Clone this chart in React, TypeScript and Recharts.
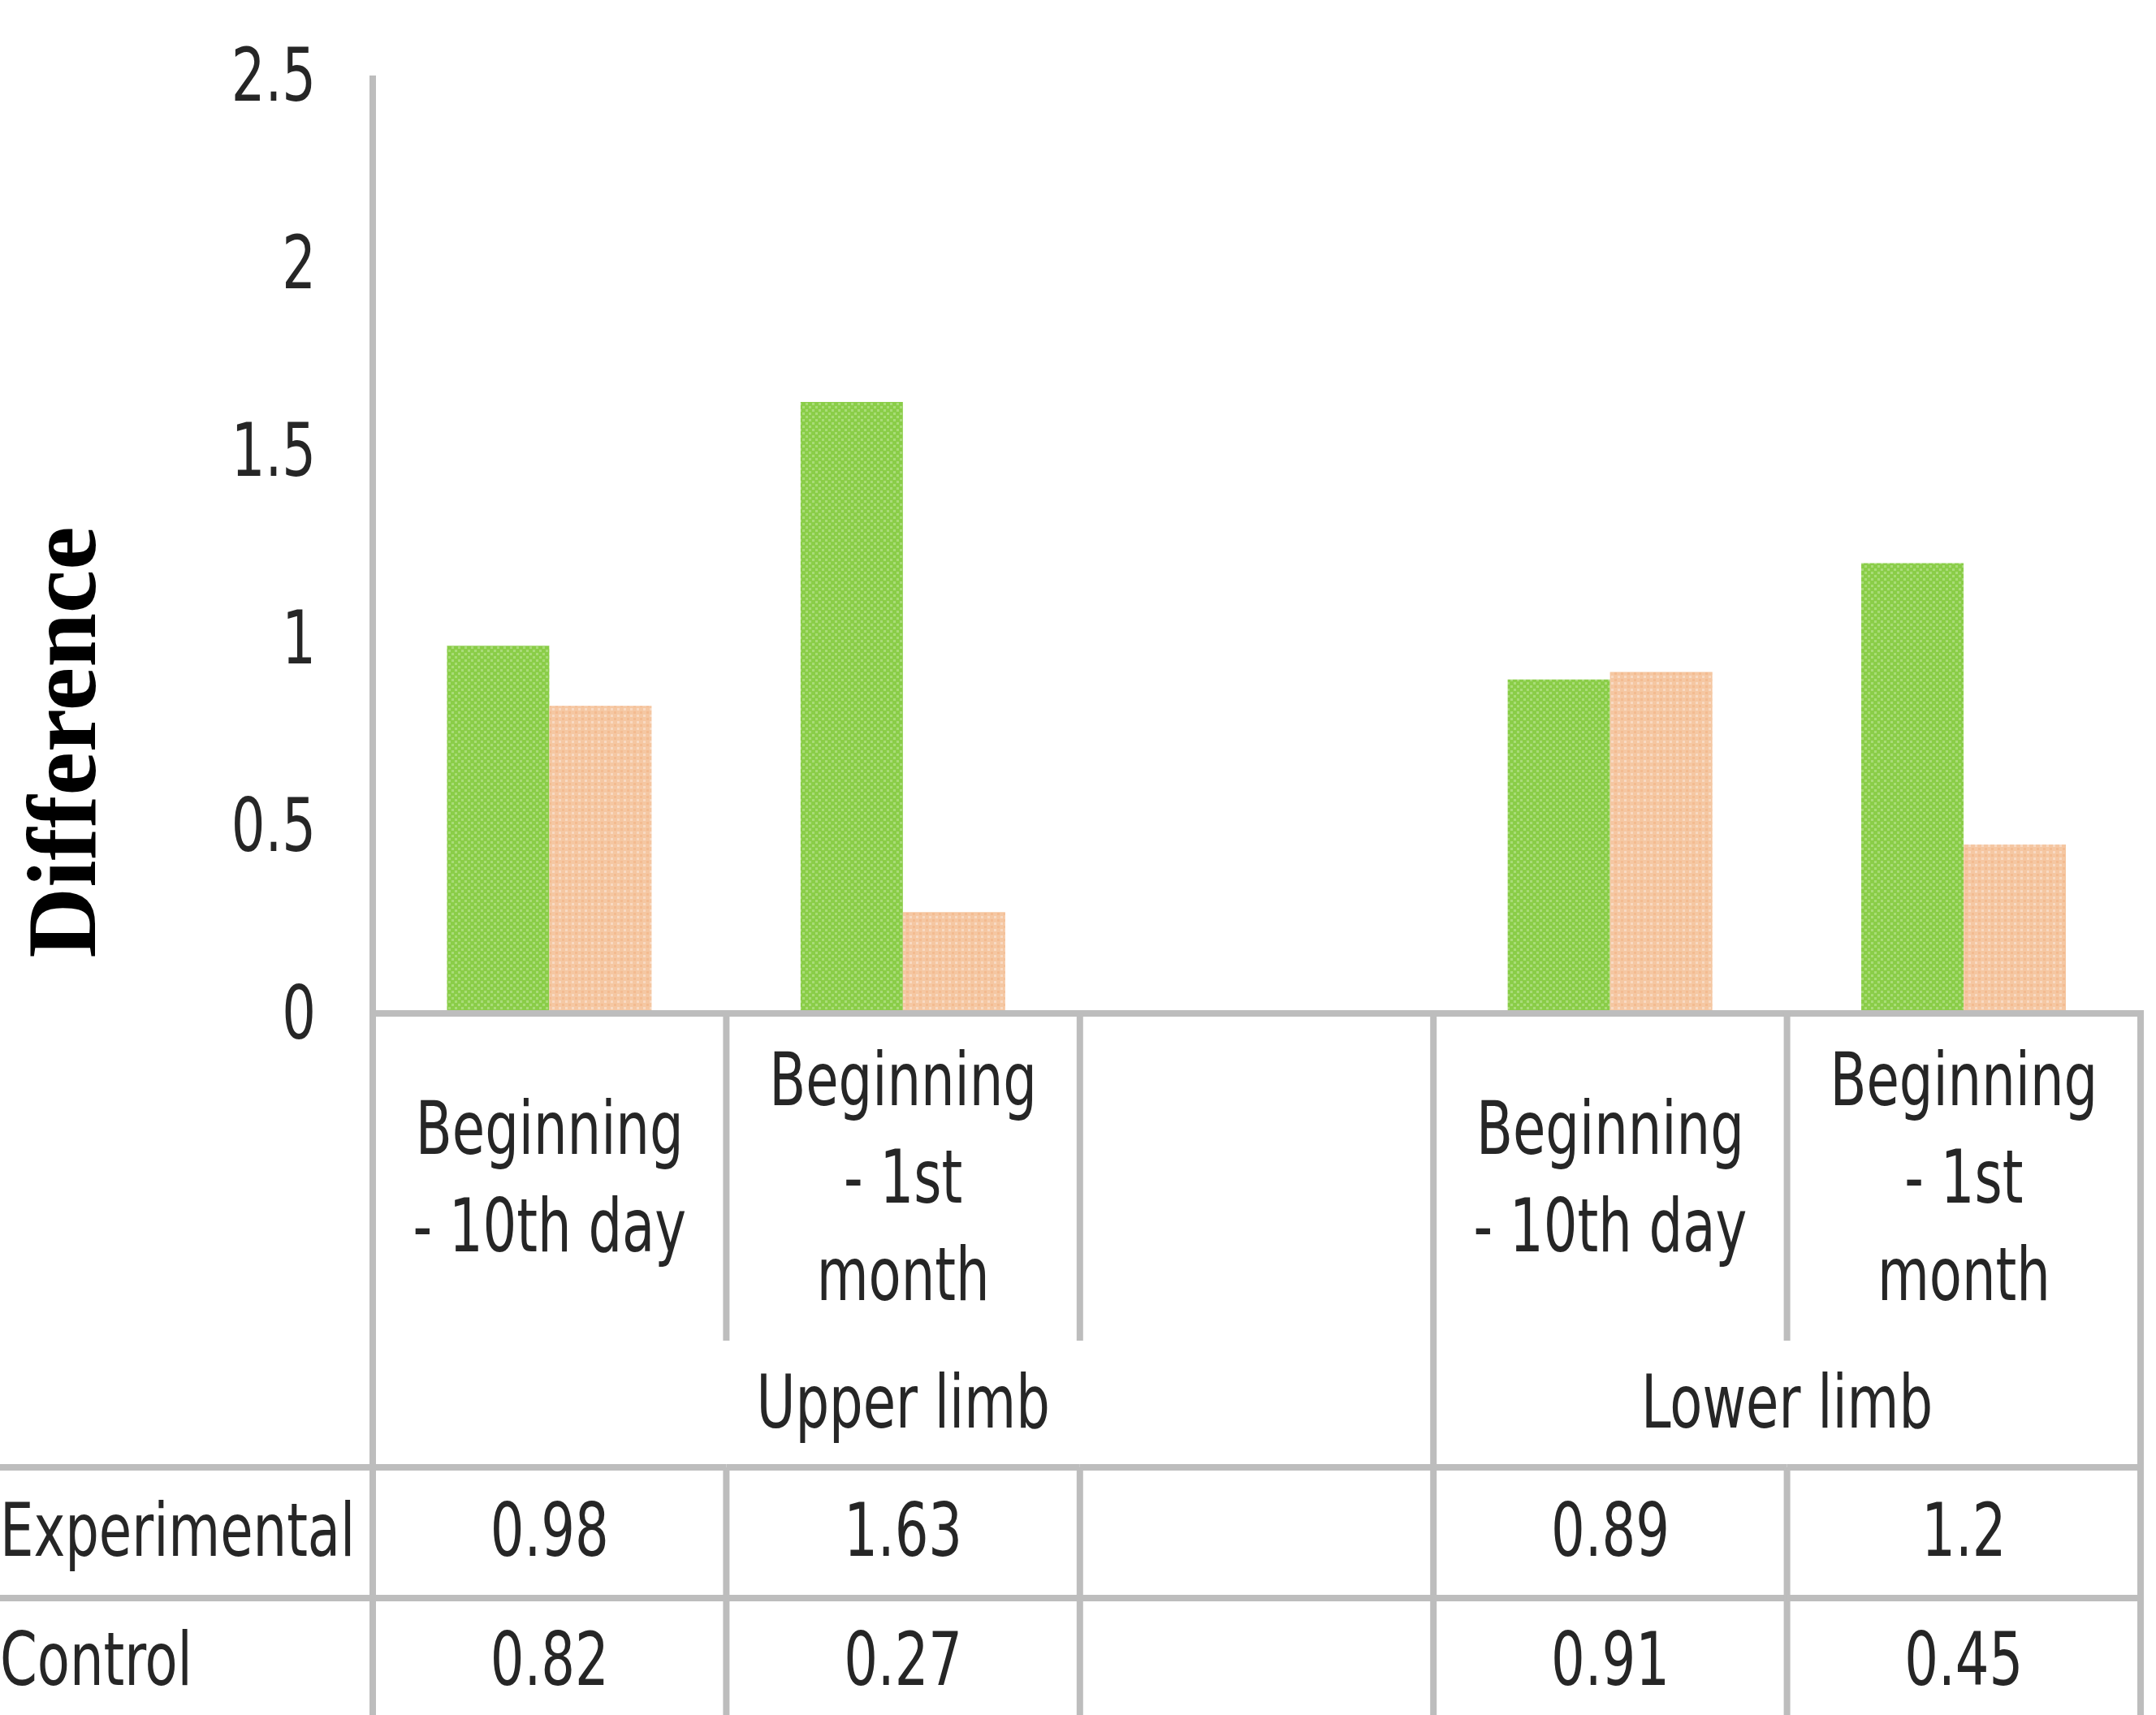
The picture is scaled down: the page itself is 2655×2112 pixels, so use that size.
import React from 'react';
import { BarChart, Bar, XAxis, YAxis } from 'recharts';

const categories = ['Beginning - 10th day', 'Beginning - 1st month', '', 'Beginning - 10th day', 'Beginning - 1st month'];
const categoryLines = [['Beginning', '- 10th day'], ['Beginning', '- 1st', 'month'], [], ['Beginning', '- 10th day'], ['Beginning', '- 1st', 'month']];
const groups = ['Upper limb', 'Lower limb'];
const groupSpans = [[0, 2], [3, 4]];
const seriesNames = ['Experimental', 'Control'];
const experimental = [0.98, 1.63, null, 0.89, 1.2];
const control = [0.82, 0.27, null, 0.91, 0.45];
const yTicks = [0, 0.5, 1, 1.5, 2, 2.5];

const data = categories.map((name, i) => ({ id: i, name, experimental: experimental[i], control: control[i] }));

const W = 2655;
const H = 2112;
const PLOT = { left: 459, right: 2636, top: 93, bottom: 1248 };
const COL_W = (PLOT.right - PLOT.left) / categories.length;

const FONT = "'Liberation Sans Narrow', 'DejaVu Sans Condensed', 'Open Sans', sans-serif";
const TEXT = '#262626';
const LINE = '#bdbdbd';
const LW = 8;
const FS = 90;
const SQUEEZE = 0.81; // reference text is narrow (Calibri-like)

// offsets below the x axis
const LABEL_MID = 202;
const LABEL_LH = 120;
const INNER_END = 403;
const GROUP_Y = 479;
const ROW1_LINE = 559;
const ROW2_LINE = 720;
const ROW_Y = [637, 796];

const txt = (key: string, x: number, y: number, s: string, anchor = 'middle') => (
  <text
    key={key}
    x={0}
    y={0}
    transform={`translate(${x},${y}) scale(${SQUEEZE},1)`}
    textAnchor={anchor}
    dominantBaseline="central"
    fontFamily={FONT}
    fontSize={FS}
    fill={TEXT}
  >
    {s}
  </text>
);

const ValueTick = (props: any) => {
  const { x, y, payload } = props;
  return txt('t', x, y, String(payload.value), 'end');
};

const CategoryTick = (props: any) => {
  const { x, y, payload } = props;
  const i = Number(payload.value);
  const hw = COL_W / 2;
  const left = x - hw;
  const right = x + hw;
  const out: React.ReactNode[] = [];
  const lines = categoryLines[i] || [];
  lines.forEach((t, k) => {
    out.push(txt('c' + k, x, y + LABEL_MID + (k - (lines.length - 1) / 2) * LABEL_LH, t));
  });
  // vertical divider on the left of the column
  const groupStart = groupSpans.some((g) => g[0] === i);
  if (groupStart) {
    out.push(<line key="vl" x1={left} x2={left} y1={y} y2={H} stroke={LINE} strokeWidth={LW} />);
  } else {
    out.push(<line key="vl1" x1={left} x2={left} y1={y} y2={y + INNER_END} stroke={LINE} strokeWidth={LW} />);
    out.push(<line key="vl2" x1={left} x2={left} y1={y + ROW1_LINE} y2={H} stroke={LINE} strokeWidth={LW} />);
  }
  if (i === categories.length - 1) {
    out.push(<line key="vr" x1={right} x2={right} y1={y - LW / 2} y2={H} stroke={LINE} strokeWidth={LW} />);
  }
  // table row lines
  const hx1 = i === 0 ? 0 : left;
  out.push(<line key="h1" x1={hx1} x2={right} y1={y + ROW1_LINE} y2={y + ROW1_LINE} stroke={LINE} strokeWidth={LW} />);
  out.push(<line key="h2" x1={hx1} x2={right} y1={y + ROW2_LINE} y2={y + ROW2_LINE} stroke={LINE} strokeWidth={LW} />);
  // group label
  groupSpans.forEach((g, gi) => {
    if (g[0] === i) {
      out.push(txt('g' + gi, x + ((g[1] - g[0]) * COL_W) / 2, y + GROUP_Y, groups[gi]));
    }
  });
  // row labels + values
  if (i === 0) {
    seriesNames.forEach((s, r) => out.push(txt('rl' + r, 0, y + ROW_Y[r], s, 'start')));
  }
  [experimental, control].forEach((arr, r) => {
    const v = arr[i];
    if (v !== null && v !== undefined) out.push(txt('v' + r, x, y + ROW_Y[r], String(v)));
  });
  return <g>{out}</g>;
};

const AxisTitle = () => (
  <text
    x={76}
    y={914}
    transform="rotate(-90 76 914)"
    textAnchor="middle"
    dominantBaseline="central"
    fontFamily="'Liberation Serif', 'Times New Roman', serif"
    fontWeight="bold"
    fontSize={120}
    fill="#000"
  >
    Difference
  </text>
);

export default function App() {
  return (
    <div style={{ position: 'absolute', left: 0, top: 0, width: W, height: H, background: '#fff' }}>
      <BarChart
        width={W}
        height={H}
        data={data}
        margin={{ top: PLOT.top, left: PLOT.left - 100, right: W - PLOT.right, bottom: H - PLOT.bottom - 30 }}
        barCategoryGap="21%"
        barGap={0}
      >
        <defs>
          <pattern id="greenPat" width="8" height="8" patternUnits="userSpaceOnUse">
            <rect width="8" height="8" fill="#8acd48" />
            <rect x="0" y="0" width="3" height="3" fill="#a9dc78" />
            <rect x="4" y="4" width="3" height="3" fill="#a9dc78" />
          </pattern>
          <pattern id="peachPat" width="8" height="8" patternUnits="userSpaceOnUse">
            <rect width="8" height="8" fill="#f5c7a2" />
            <rect x="0" y="0" width="3" height="3" fill="#f8dac3" />
            <rect x="4" y="4" width="3" height="3" fill="#f3bb90" />
          </pattern>
        </defs>
        <XAxis
          dataKey="id"
          type="category"
          interval={0}
          tickLine={false}
          tickSize={0}
          tickMargin={0}
          height={30}
          axisLine={{ stroke: LINE, strokeWidth: LW }}
          tick={<CategoryTick />}
        />
        <YAxis
          width={100}
          domain={[0, 2.5]}
          ticks={yTicks}
          tickLine={false}
          tickSize={0}
          tickMargin={70}
          axisLine={{ stroke: LINE, strokeWidth: LW }}
          tick={<ValueTick />}
          label={<AxisTitle />}
        />
        <Bar dataKey="experimental" name="Experimental" fill="url(#greenPat)" isAnimationActive={false} />
        <Bar dataKey="control" name="Control" fill="url(#peachPat)" isAnimationActive={false} />
      </BarChart>
    </div>
  );
}
